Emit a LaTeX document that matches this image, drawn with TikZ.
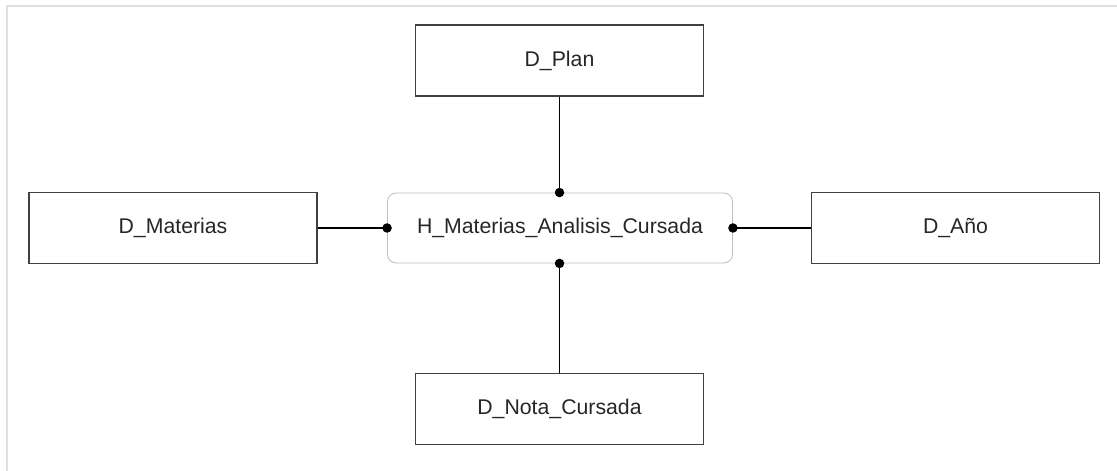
\documentclass[tikz,border=0pt]{standalone}
\usepackage{fontspec}
\setmainfont{Liberation Sans}
\usepackage{tikz}
\usetikzlibrary{arrows.meta,positioning,calc}

\begin{document}
\begin{tikzpicture}[font=\fontsize{12.1}{14}\selectfont,
   dim/.style={rectangle,draw=black!75,line width=0.8pt,minimum width=5.76cm,minimum height=1.42cm,inner sep=0pt,text=black!85},
   fact/.style={rectangle,rounded corners=0.17cm,draw=black!25,line width=0.5pt,minimum width=6.9cm,minimum height=1.4cm,inner sep=0pt,text=black!85},
   dot/.style={circle,fill=black,inner sep=0pt,minimum size=0.19cm},
   link/.style={draw=black,line width=0.8pt}]
  \useasboundingbox (0,0) rectangle (22.34,9.42);
  % frame (top and left only)
  \draw[black!12,line width=1.2pt] (0.14,0) -- (0.14,9.3) -- (22.34,9.3);
  % fact table in the middle
  \node[fact] (h) at (11.2,4.86) {H\_Materias\_Analisis\_Cursada};
  % dimensions
  \node[dim] (plan) at (11.19,8.21) {D\_Plan};
  \node[dim] (mat) at (3.46,4.86) {D\_Materias};
  \node[dim] (anio) at (19.11,4.86) {D\_Año};
  \node[dim] (nota) at (11.19,1.24) {D\_Nota\_Cursada};
  \draw[link] (plan.south) -- (plan.south |- h.north) node[dot]{};
  \draw[link] (mat.east) -- (h.west) node[dot]{};
  \draw[link] (anio.west) -- (h.east) node[dot]{};
  \draw[link] (nota.north) -- (nota.north |- h.south) node[dot]{};
\end{tikzpicture}
\end{document}
